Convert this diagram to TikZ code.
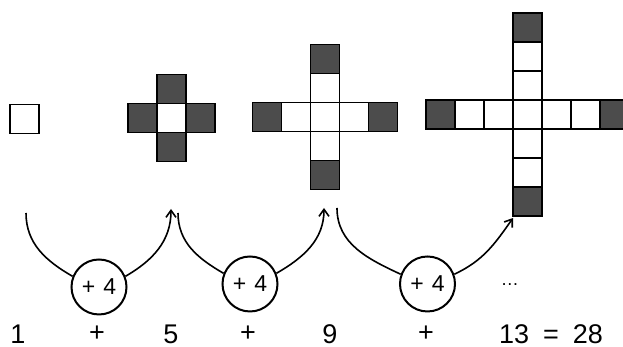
\documentclass[tikz,border=0pt]{standalone}
\usepackage{fontspec}
\setmainfont{Liberation Sans}
\usetikzlibrary{arrows.meta}

\begin{document}
\begin{tikzpicture}[
    x=0.5pt, y=0.5pt,
    cellw/.style={rectangle, draw, fill=white, line width=0.9pt, minimum size=14.5pt, inner sep=0pt},
    cellb/.style={cellw, fill=black!70},
    plus/.style={circle, draw, line width=1pt, minimum size=27.5pt, inner sep=0pt, font=\fontsize{11.5}{13}\selectfont},
    num/.style={font=\fontsize{13.5}{15}\selectfont},
    jump/.style={line width=0.8pt},
    >={Straight Barb[length=3.5pt,width=5pt]}
]
    \useasboundingbox (0,0) rectangle (623,347);

    % Stage 1: single square
    \node[cellw] (a0) at (24.5,228) {};

    % Stages 2-4: crosses with growing arms
    \foreach \cx/\cy/\k/\nm in {171.5/229/1/b, 325/230/2/c, 527.5/232.5/3/d} {
        \node[cellw] (\nm0) at (\cx,\cy) {};
        \foreach \d in {1,...,\k} {
            \ifnum\d=\k \def\cs{cellb}\else \def\cs{cellw}\fi
            \node[\cs] (\nm-e\d) at ({\cx+29*\d},\cy) {};
            \node[\cs] (\nm-w\d) at ({\cx-29*\d},\cy) {};
            \node[\cs] (\nm-n\d) at (\cx,{\cy+29*\d}) {};
            \node[\cs] (\nm-s\d) at (\cx,{\cy-29*\d}) {};
        }
    }

    % +4 circles
    \node[plus] (p1) at (99,60) {+\hspace{4pt}4};
    \node[plus] (p2) at (250,63) {+\hspace{4pt}4};
    \node[plus] (p3) at (427.5,63) {+\hspace{4pt}4};
    \node[font=\fontsize{9}{10}\selectfont] (dots) at (510,62) {\dots};

    % Arc ends
    \coordinate (s1) at (26,134);
    \coordinate (t1) at (171,138);
    \coordinate (s2) at (178,134);
    \coordinate (t2) at (324,139);
    \coordinate (s3) at (337,139);
    \coordinate (t3) at (513,129);

    % Jumps
    \draw[jump] (s1) to[out=-90, in=150] (p1.158);
    \draw[jump, ->] (p1.22) to[out=30, in=-90] (t1);
    \draw[jump] (s2) to[out=-90, in=150] (p2.158);
    \draw[jump, ->] (p2.22) to[out=30, in=-90] (t2);
    \draw[jump] (s3) to[out=-90, in=155] (p3.160);
    \draw[jump, ->] (p3.20) to[out=25, in=-125] (t3);

    % Sum
    \node[num] (n1) at (18,13) {1};
    \node[num] (o1) at (97,13) {+};
    \node[num] (n2) at (171,13) {5};
    \node[num] (o2) at (248,13) {+};
    \node[num] (n3) at (330,13) {9};
    \node[num] (o3) at (426,13) {+};
    \node[num] (n4) at (551,13) {13\hspace{7pt}=\hspace{7pt}28};
\end{tikzpicture}
\end{document}
